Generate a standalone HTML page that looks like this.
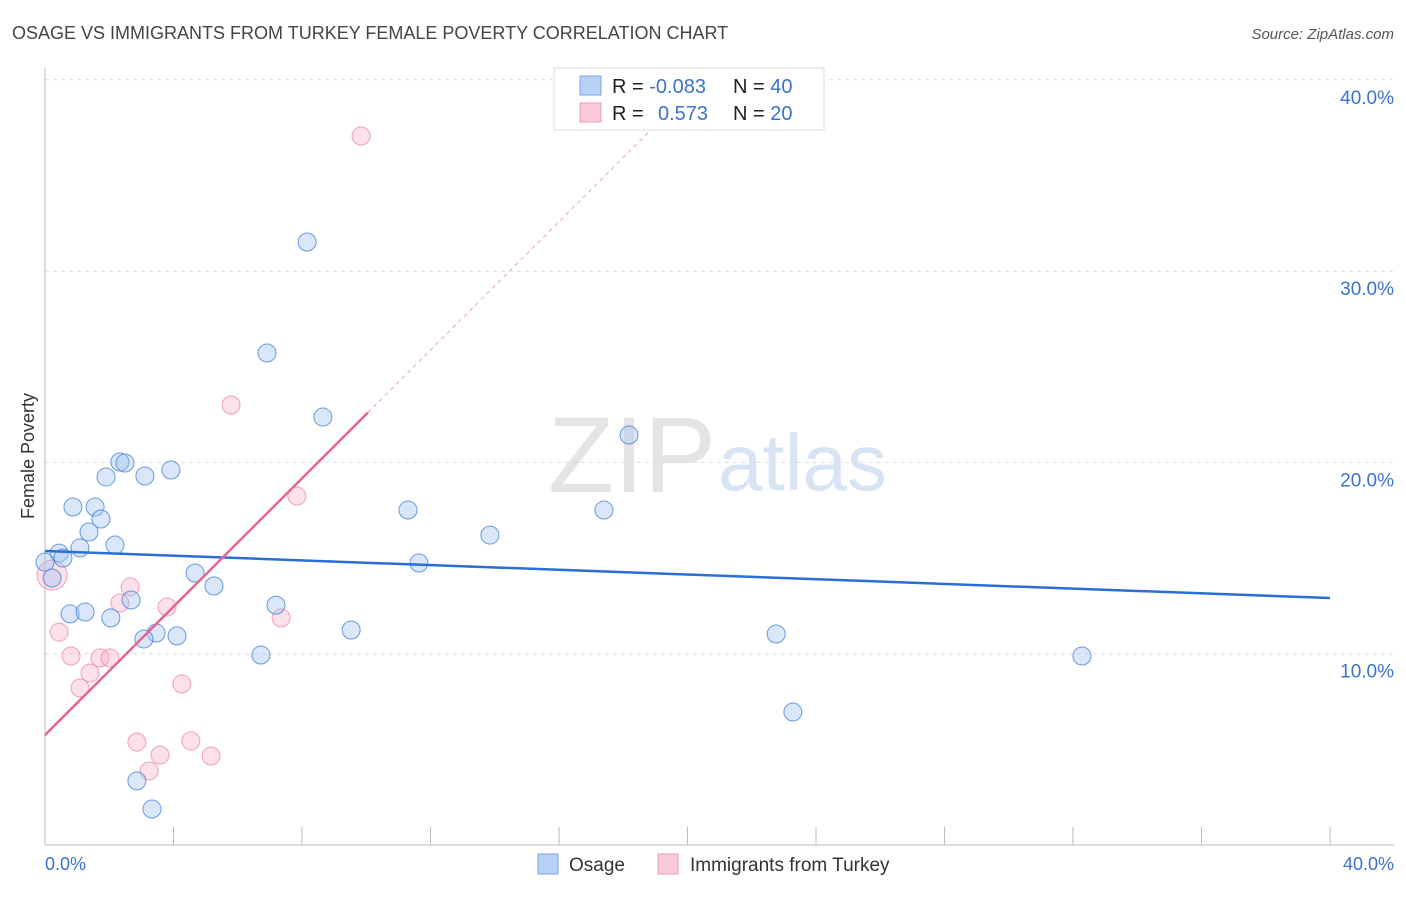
<!DOCTYPE html>
<html><head><meta charset="utf-8"><style>
body{margin:0;background:#fff;font-family:"Liberation Sans",sans-serif;}
svg text{font-family:"Liberation Sans",sans-serif;}
</style></head><body>
<svg width="1406" height="892" viewBox="0 0 1406 892">
<text x="12" y="39" font-size="18" fill="#444">OSAGE VS IMMIGRANTS FROM TURKEY FEMALE POVERTY CORRELATION CHART</text>
<text x="1394" y="39" font-size="15" fill="#555" text-anchor="end" font-style="italic">Source: ZipAtlas.com</text>
<text x="716" y="492" font-size="108" fill="#e4e4e4" text-anchor="end" font-family="Liberation Serif">ZIP</text>
<text x="718" y="490" font-size="80" fill="#d8e4f4">atlas</text>
<g id="grid"></g>
<g id="axes"></g>
<text transform="translate(34,456) rotate(-90)" font-size="18" fill="#333" text-anchor="middle">Female Poverty</text>
<text x="45" y="870" font-size="18" fill="#3b73c9">0.0%</text>
<text x="1394" y="870" font-size="18" fill="#3b73c9" text-anchor="end">40.0%</text>
<g id="marks"></g>
<g>
<rect x="554" y="68" width="270" height="62" fill="#fff" stroke="#ddd"/>
<rect x="580" y="76" width="21" height="19" fill="#b8d2f5" stroke="#7aa6e6"/>
<rect x="580" y="103" width="21" height="19" fill="#f9c9d8" stroke="#ee9ab5"/>
<text x="612" y="93" font-size="20" fill="#222">R = <tspan fill="#3b73c9">-0.083</tspan></text>
<text x="733" y="93" font-size="20" fill="#222">N = <tspan fill="#3b73c9">40</tspan></text>
<text x="612" y="120" font-size="20" fill="#222">R = <tspan x="658" fill="#3b73c9">0.573</tspan></text>
<text x="733" y="120" font-size="20" fill="#222">N = <tspan fill="#3b73c9">20</tspan></text>
</g>
<g>
<rect x="538" y="854" width="20" height="20" fill="#b8d2f5" stroke="#7aa6e6"/>
<text x="569" y="871" font-size="19" fill="#333">Osage</text>
<rect x="658" y="854" width="20" height="20" fill="#f9c9d8" stroke="#ee9ab5"/>
<text x="690" y="871" font-size="19" fill="#333">Immigrants from Turkey</text>
</g>
</svg>
<script>
const yTicks=[10,20,30,40];
const yTickLabels=["10.0%","20.0%","30.0%","40.0%"];
const xTicks=[0,4,8,12,16,20,24,28,32,36,40];
const osageX=[8.16,6.91,8.65,18.18,2.33,2.49,3.92,3.11,1.90,0.87,1.56,1.74,11.30,17.40,13.85,1.37,2.18,1.09,0.44,0.56,0,0.22,11.64,4.67,5.26,2.68,7.19,0.78,1.25,2.05,3.46,3.08,4.11,9.53,22.76,6.72,32.28,23.28,2.86,3.33];
const osageY=[31.52,25.72,22.37,21.43,20.02,19.97,19.60,19.29,19.24,17.67,17.67,17.04,17.51,17.51,16.20,16.36,15.68,15.53,15.26,15.00,14.79,13.96,14.74,14.22,13.54,12.81,12.54,12.08,12.18,11.87,11.08,10.77,10.93,11.24,11.03,9.93,9.88,6.95,3.35,1.88];
const turkeyX=[9.84,5.79,7.84,2.65,2.33,3.80,7.35,0.44,0.81,1.71,2.02,1.40,1.09,4.26,2.86,4.54,3.58,3.24,5.17,0.22];
const turkeyY=[37.06,23.00,18.24,13.49,12.65,12.44,11.87,11.13,9.88,9.78,9.78,8.99,8.21,8.42,5.38,5.44,4.70,3.87,4.65,14.11];
const osageTrend=[15.37,12.91];
const turkeyTrend=[5.75,1.677];
const NS="http://www.w3.org/2000/svg";
const X=v=>45+v*1285/40;
const Y=v=>845-v*19.13;
function mk(p,t,a){const e=document.createElementNS(NS,t);for(const k in a)e.setAttribute(k,a[k]);p.appendChild(e);return e;}
const grid=document.getElementById('grid'),axes=document.getElementById('axes'),marks=document.getElementById('marks');
yTicks.forEach((t,i)=>{
 const l=mk(grid,'line',{x1:45,x2:1394,y1:Y(t),y2:Y(t),stroke:'#ddd','stroke-dasharray':'4,4'});
 
 
 const tx=mk(grid,'text',{x:1394,y:Y(t)+24,'font-size':19,fill:'#3b73c9','text-anchor':'end'});
 tx.textContent=yTickLabels[i];
 
 
});
const ax=mk(axes,'line',{x1:45,x2:45,y1:68,y2:845,stroke:'#bbb'});


const bx=mk(axes,'line',{x1:45,x2:1394,y1:845,y2:845,stroke:'#bbb'});


xTicks.forEach(t=>{
 const l=mk(axes,'line',{x1:X(t),x2:X(t),y1:827,y2:845,stroke:'#bbb'});
 
 
});
turkeyX.forEach((x,i)=>{
 const big=i===turkeyX.length-1;
 const c=mk(marks,'circle',{cx:X(x),cy:Y(turkeyY[i]),r:big?15:9,fill:'rgba(246,170,196,0.35)',stroke:'rgba(236,130,165,0.75)','stroke-width':1});
 
 
});
osageX.forEach((x,i)=>{
 const c=mk(marks,'circle',{cx:X(x),cy:Y(osageY[i]),r:9,fill:'rgba(160,196,240,0.4)',stroke:'rgba(70,130,215,0.8)','stroke-width':1});
 
 
});
const ol=mk(marks,'line',{x1:X(0),y1:Y(osageTrend[0]),x2:X(40),y2:Y(osageTrend[1]),stroke:'#2a6fd6','stroke-width':2.5});


const tl=mk(marks,'line',{x1:X(0),y1:Y(turkeyTrend[0]),x2:X(10.05),y2:Y(turkeyTrend[0]+turkeyTrend[1]*10.05),stroke:'#e8638f','stroke-width':2.5});


const td=mk(marks,'line',{x1:X(10.05),y1:Y(turkeyTrend[0]+turkeyTrend[1]*10.05),x2:X(19),y2:Y(turkeyTrend[0]+turkeyTrend[1]*19),stroke:'#eaa0b8','stroke-width':1,'stroke-dasharray':'4,4'});


</script>
</body></html>
